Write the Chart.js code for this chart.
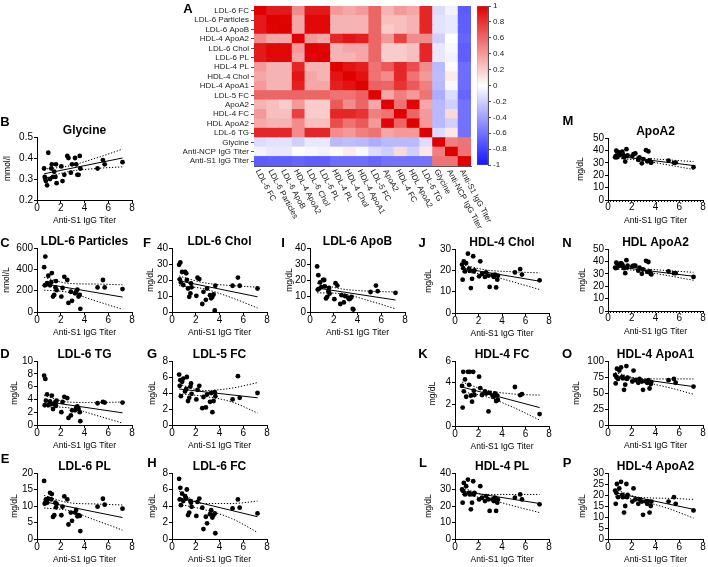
<!DOCTYPE html>
<html>
<head>
<meta charset="utf-8">
<script src="https://cdn.jsdelivr.net/npm/chart.js@4.4.1/dist/chart.umd.min.js"></script>
<style>
body{margin:0;background:#fff;}
#fig{position:relative;width:708px;height:567px;overflow:hidden;font-family:Arial,"Liberation Sans",Helvetica,sans-serif;}
#fig canvas{position:absolute;}
.lt{position:absolute;font-weight:bold;font-size:13px;line-height:13px;transform:translate(-50%,-50%);color:#000;}
</style>
</head>
<body>
<div id="fig"></div>
<script>
// ---- heatmap (panel A) ----
const vars = ['LDL-6 FC','LDL-6 Particles','LDL-6 ApoB','HDL-4 ApoA2','LDL-6 Chol','LDL-6 PL','HDL-4 PL',
  'HDL-4 Chol','HDL-4 ApoA1','LDL-5 FC','ApoA2','HDL-4 FC','HDL ApoA2','LDL-6 TG','Glycine',
  'Anti-NCP IgG Titer','Anti-S1 IgG Titer'];
const corr = [
  [1,.9,.9,.45,.9,.9,.4,.35,.4,.6,.3,.4,.35,.85,-.15,-.05,-.7],
  [.9,1,.99,.35,.97,.97,.3,.3,.3,.6,.25,.25,.3,.85,-.12,-.1,-.68],
  [.9,.99,1,.35,.97,.97,.3,.3,.3,.6,.2,.25,.3,.85,-.12,-.1,-.68],
  [.45,.35,.35,1,.4,.35,.85,.92,.88,.6,.4,.75,.45,.45,-.2,0,-.65],
  [.9,.97,.97,.4,1,.98,.3,.35,.35,.6,.2,.2,.25,.85,-.1,-.03,-.68],
  [.9,.97,.97,.35,.98,1,.3,.3,.35,.6,.2,.2,.25,.85,-.1,-.05,-.68],
  [.4,.3,.3,.85,.3,.3,1,.92,.88,.55,.65,.85,.7,.45,-.3,.02,-.62],
  [.35,.3,.3,.92,.35,.3,.92,1,.93,.55,.45,.85,.55,.4,-.28,.08,-.62],
  [.4,.3,.3,.88,.35,.35,.88,.93,1,.62,.6,.8,.65,.5,-.3,-.03,-.62],
  [.6,.6,.6,.6,.6,.6,.55,.55,.62,1,.35,.5,.4,.55,-.35,-.15,-.65],
  [.3,.25,.2,.4,.2,.2,.65,.45,.6,.35,1,.55,.98,.35,-.3,-.2,-.6],
  [.4,.25,.25,.75,.2,.2,.85,.85,.8,.5,.55,1,.6,.4,-.3,.15,-.6],
  [.35,.3,.3,.45,.25,.25,.7,.55,.65,.4,.98,.6,1,.4,-.3,-.2,-.6],
  [.85,.85,.85,.45,.85,.85,.45,.4,.5,.55,.35,.4,.4,1,-.15,.1,-.6],
  [-.15,-.12,-.12,-.2,-.1,-.1,-.3,-.28,-.3,-.35,-.3,-.3,-.3,-.15,1,.5,.55],
  [-.05,-.1,-.1,0,-.03,-.05,.02,.08,-.03,-.15,-.2,.15,-.2,.1,.5,1,.55],
  [-.7,-.68,-.68,-.65,-.68,-.68,-.62,-.62,-.62,-.65,-.6,-.6,-.6,-.6,.55,.55,1]
];
const cbStops = [-1,-0.75,-0.5,-0.25,0,0.25,0.5,0.75,1];

// ---- scatter panels: shared x (Anti-S1 IgG titer) ----
const titer = [0.6,0.65,0.7,0.75,0.85,0.95,1.1,1.2,1.25,1.35,1.45,1.55,1.6,1.65,2.05,2.15,2.3,2.55,2.65,2.85,2.95,3.2,3.3,3.4,3.5,3.6,3.65,5.1,5.55,5.7,7.2];
const fitX = [0.6, 7.2];
const ciX = [0.6, 2.6, 5, 7.2];

const glycine = [0.35,0.31,0.30,0.29,0.27,0.425,0.30,0.35,0.37,0.31,0.335,0.31,0.37,0.28,0.36,0.29,0.32,0.41,0.40,0.33,0.37,0.40,0.37,0.32,0.32,0.41,0.35,0.35,0.39,0.37,0.38];
const glycineFit = [0.325, 0.40], glycineUp = [0.347,0.361,0.40,0.442], glycineLo = [0.303,0.335,0.35,0.358];

const ldl6Particles = [420,250,520,255,270,340,250,280,365,145,160,230,290,205,145,225,330,300,85,190,105,175,190,210,145,160,30,230,300,230,215];
const ldl6ParticlesFit = [265,140], ldl6ParticlesUp = [325,269,262,255], ldl6ParticlesLo = [205,185,102,25];

const ldl6TG = [7.7,3.1,7.2,3.8,4.8,3.1,3.7,3.3,4.6,2.5,3.3,3.6,3.0,3.8,2.0,3.6,4.4,4.2,1.1,1.5,2.3,2.3,2.7,2.9,2.5,2.0,0.6,3.4,3.6,3.5,3.5];
const ldl6TGFit = [3.7,1.9], ldl6TGUp = [4.6,3.6,3.5,3.6], ldl6TGLo = [2.85,2.7,1.5,0.3];

const ldl6PL = [17.6,10.7,11,12,11,12.2,14,12,13.6,6.7,7.2,11,9.6,10.6,7.2,9.8,12.9,12,4.4,8,5.5,8,8.8,6.9,7.2,7,2.4,9.8,12.2,10.4,9.2];
const ldl6PLFit = [11.3,6.5], ldl6PLUp = [13.2,11.05,10.6,10.3], ldl6PLLo = [9.4,8.65,5.6,2.7];

const ldl6Chol = [29.5,20.4,31,18.5,25,16.8,25,24.2,20,14.7,9.5,11.6,17.9,15.4,10.1,21.4,20.6,5,12.6,7.6,14.7,10.5,8.6,9.5,11,1,16.4,16.4,21.5,16.4,14.7];
const ldl6CholFit = [19.5,9.5], ldl6CholUp = [22.5,18.4,16.5,15.5], ldl6CholLo = [16.5,14.6,9,2.5];

const ldl5FC = [6.3,4.9,5.6,3.6,5.4,5.8,4.2,4.5,6.0,3.0,3.4,4.8,5.2,3.9,3.2,4.4,4.9,2.1,3.5,2.2,3.8,2.9,4.0,1.6,3.0,4.1,3.6,3.2,6.1,3.4,4.0];
const ldl5FCFit = [4.5,3.4], ldl5FCUp = [5.1,4.3,4.6,5.3], ldl5FCLo = [3.9,3.6,2.9,1.5];

const ldl6FC = [7.3,4.8,6.2,4.1,5.5,4.6,5.2,4.9,6.0,2.9,3.2,4.6,4.4,3.9,2.8,4.5,4.9,3.8,1.2,2.7,1.9,3.0,3.5,2.6,2.9,3.1,0.7,3.7,4.8,3.8,3.1];
const ldl6FCFit = [5.0,2.7], ldl6FCUp = [5.8,4.3,4.3,4.6], ldl6FCLo = [4.2,3.6,2.5,0.8];

const ldl6ApoB = [28.5,14,23,14.5,18.5,15.5,20,20,16,8.5,9.5,13,15,11.5,8,18,16.5,5,10.5,6,10,9,8,8.5,9.5,2,1.5,12.5,16.5,13,12];
const ldl6ApoBFit = [15,7.5], ldl6ApoBUp = [18,14.5,13,12.5], ldl6ApoBLo = [12,11.5,7,2];

const hdl4Chol = [22.7,15.6,21,24.2,19.5,23.4,27.8,20.8,19.8,11.7,16,26.6,19.5,20,17.2,24.2,18.4,16.9,19,17.5,12.2,17.7,16.9,18,12,15.6,17.5,19,20.6,18,15.3];
const hdl4CholFit = [21,14.9], hdl4CholUp = [22.7,20.2,19.3,18.8], hdl4CholLo = [19.3,18,14.5,11];

const hdl4FC = [3.7,1.7,5.0,3.2,4.3,2.7,5.0,3.8,5.0,2.8,2.25,5.0,3.26,2.86,4.55,3.5,2.86,3.2,3.0,1.35,3.05,2.8,2.7,3.0,2.3,2.8,2.4,3.6,2.85,2.95,1.1];
const hdl4FCFit = [3.6,1.7], hdl4FCUp = [4.05,3.32,2.95,2.85], hdl4FCLo = [3.15,2.72,1.7,0.55];

const hdl4PL = [30,22,29,34,27,32,36,28,27,18,22,35,27,28,24,32,25,23,26,24,17,24,23,25,17,22,24,25,27,24,21];
const hdl4PLFit = [29,21.5], hdl4PLUp = [31,27,27,27], hdl4PLLo = [27,24.5,20,16];

const apoA2 = [34.4,35.4,39.7,34.4,38.5,36,38.1,38.9,37,34.4,31,41,35.4,36,35.4,37,37.6,32.3,34.4,29.6,33,40.2,31.2,39.2,32,30.2,30.2,31.7,30,30.2,26.5];
const apoA2Fit = [35.5,27.8], apoA2Up = [37.3,34.3,32.4,31], apoA2Lo = [33.7,32.1,28.4,24.6];

const hdlApoA2 = [35,34.5,39,35,38,36.5,38.5,37.5,36,34.5,30.5,41,35,36.5,36,36.5,36.5,32.5,35,30,33.5,40.5,31.5,39.5,32,30,29.5,32,30.5,30.5,27.5];
const hdlApoA2Fit = [35.8,28], hdlApoA2Up = [37.6,34.6,32.6,31.2], hdlApoA2Lo = [34,32.4,28.6,24.8];

const hdl4ApoA1 = [78,65,75,88,72,85,90,75,73,55,63,92,72,74,68,85,70,66,72,68,55,68,66,70,57,64,67,70,72,66,60];
const hdl4ApoA1Fit = [77,60], hdl4ApoA1Up = [82,73,72,72], hdl4ApoA1Lo = [72,68,59,48];

const hdl4ApoA2 = [22,16,21,25,19,23,26,20,19,12,15,25,19,20,17,23,18,16,18,17,11,17,16,17,12,15,17,17,19,16,13];
const hdl4ApoA2Fit = [21,13.5], hdl4ApoA2Up = [22.5,19,18.5,18], hdl4ApoA2Lo = [19.5,17.5,14,9.5];

// ---- setup ----
const fig = document.getElementById('fig');
Chart.defaults.font.family = 'Arial, "Liberation Sans", Helvetica, sans-serif';
Chart.defaults.color = '#000';
Chart.defaults.animation = false;

function addCanvas(left, top, w, h) {
  const c = document.createElement('canvas');
  c.width = w; c.height = h;
  c.style.left = left + 'px'; c.style.top = top + 'px';
  c.style.width = w + 'px'; c.style.height = h + 'px';
  fig.appendChild(c);
  return c;
}

function colorOf(v) {
  if (v >= 0) {
    const g = Math.round(255 * (1 - v));
    return 'rgb(' + Math.round(255 - 30 * v) + ',' + g + ',' + g + ')';
  }
  const a = -v, c = Math.round(255 - 235 * a);
  return 'rgb(' + c + ',' + c + ',255)';
}

// heatmap
const colLabels = {
  id: 'colLabels',
  afterDraw(chart) {
    const {ctx, chartArea} = chart;
    const x = chart.scales.x;
    ctx.save();
    ctx.font = '8px Arial, "Liberation Sans", sans-serif';
    ctx.fillStyle = '#222';
    ctx.textAlign = 'left';
    ctx.textBaseline = 'middle';
    vars.forEach((name, i) => {
      ctx.save();
      ctx.translate(x.getPixelForValue(i) - 3, chartArea.bottom + 4);
      ctx.rotate(62 * Math.PI / 180);
      ctx.fillText(name, 0, 0);
      ctx.restore();
    });
    ctx.restore();
  }
};

const hmCanvas = addCanvas(150, 0, 350, 240);
new Chart(hmCanvas, {
  type: 'bar',
  data: {
    labels: vars,
    datasets: vars.map((_, k) => {
      const r = vars.length - 1 - k;
      return {
        data: vars.map(() => 1),
        backgroundColor: corr[r].map(colorOf),
        borderWidth: 0,
        inflateAmount: 0.5,
        barPercentage: 1,
        categoryPercentage: 1
      };
    })
  },
  options: {
    responsive: false,
    devicePixelRatio: 1,
    layout: {padding: {top: 3, right: 29}},
    plugins: {legend: {display: false}, tooltip: {enabled: false}},
    scales: {
      x: {
        stacked: true,
        grid: {display: false},
        border: {display: true, color: '#555'},
        ticks: {display: false},
        afterFit: s => { s.height = 240 - 166; }
      },
      y: {
        stacked: true, min: 0, max: vars.length,
        afterBuildTicks: axis => { axis.ticks = vars.map((v, i) => ({value: vars.length - i - 0.5})); },
        ticks: {
          autoSkip: false, padding: 2, color: '#222',
          font: {size: 8, lineHeight: 1},
          callback: v => vars[Math.round(vars.length - 0.5 - v)]
        },
        grid: {display: true, drawOnChartArea: false, tickLength: 3, color: '#555'},
        border: {display: true, color: '#555'},
        afterFit: s => { s.width = 104; }
      }
    }
  },
  plugins: [colLabels]
});

// colour bar
const cbCanvas = addCanvas(470, 0, 46, 171);
new Chart(cbCanvas, {
  type: 'bar',
  data: {
    labels: [''],
    datasets: [{
      data: [[-1, 1]],
      barPercentage: 1, categoryPercentage: 1,
      borderWidth: 0.5, borderColor: '#777', borderSkipped: false,
      backgroundColor: c => {
        const a = c.chart.chartArea;
        if (!a) return '#fff';
        const g = c.chart.ctx.createLinearGradient(0, a.bottom, 0, a.top);
        cbStops.forEach(v => g.addColorStop((v + 1) / 2, colorOf(v)));
        return g;
      }
    }]
  },
  options: {
    responsive: false,
    devicePixelRatio: 1,
    layout: {padding: {left: 7, top: 3, bottom: 5}},
    plugins: {legend: {display: false}, tooltip: {enabled: false}},
    scales: {
      x: {display: false},
      y: {
        position: 'right', min: -1, max: 1,
        ticks: {stepSize: 0.2, padding: 2, color: '#222', font: {size: 8, lineHeight: 1},
          callback: v => String(+v.toFixed(1))},
        grid: {display: true, drawOnChartArea: false, tickLength: 3, color: '#555'},
        border: {display: true, color: '#555'},
        afterFit: s => { s.width = 28; }
      }
    }
  }
});

// scatter panels
const panels = [
  {title: 'Glycine', unit: 'mmol/l', y: glycine, fit: glycineFit, up: glycineUp, lo: glycineLo, min: 0.2, max: 0.5, step: 0.1, box: [37,132,137,200], yt: 8},
  {title: 'LDL-6 Particles', unit: 'nmol/L', y: ldl6Particles, fit: ldl6ParticlesFit, up: ldl6ParticlesUp, lo: ldl6ParticlesLo, min: 0, max: 600, step: 200, box: [37,132,248,312], yt: 7},
  {title: 'LDL-6 TG', unit: 'mg/dL', y: ldl6TG, fit: ldl6TGFit, up: ldl6TGUp, lo: ldl6TGLo, min: 0, max: 10, step: 2, box: [37,132,361,425], yt: 15},
  {title: 'LDL-6 PL', unit: 'mg/dL', y: ldl6PL, fit: ldl6PLFit, up: ldl6PLUp, lo: ldl6PLLo, min: 0, max: 20, step: 5, box: [37,132,473,539], yt: 15},
  {title: 'LDL-6 Chol', unit: 'mg/dL', y: ldl6Chol, fit: ldl6CholFit, up: ldl6CholUp, lo: ldl6CholLo, min: 0, max: 40, step: 10, box: [172,267,248,312], yt: 151},
  {title: 'LDL-5 FC', unit: 'mg/dL', y: ldl5FC, fit: ldl5FCFit, up: ldl5FCUp, lo: ldl5FCLo, min: 0, max: 8, step: 2, box: [172,267,361,425], yt: 153},
  {title: 'LDL-6 FC', unit: 'mg/dL', y: ldl6FC, fit: ldl6FCFit, up: ldl6FCUp, lo: ldl6FCLo, min: 0, max: 8, step: 2, box: [172,267,473,539], yt: 153},
  {title: 'LDL-6 ApoB', unit: 'mg/dL', y: ldl6ApoB, fit: ldl6ApoBFit, up: ldl6ApoBUp, lo: ldl6ApoBLo, min: 0, max: 40, step: 10, box: [310,405,248,312], yt: 290},
  {title: 'HDL-4 Chol', unit: 'mg/dL', y: hdl4Chol, fit: hdl4CholFit, up: hdl4CholUp, lo: hdl4CholLo, min: 0, max: 30, step: 10, box: [455,549,249,313], yt: 429},
  {title: 'HDL-4 FC', unit: 'mg/dL', y: hdl4FC, fit: hdl4FCFit, up: hdl4FCUp, lo: hdl4FCLo, min: 0, max: 6, step: 2, box: [455,549,361,426], yt: 433},
  {title: 'HDL-4 PL', unit: 'mg/dL', y: hdl4PL, fit: hdl4PLFit, up: hdl4PLUp, lo: hdl4PLLo, min: 0, max: 40, step: 10, box: [455,549,473,539], yt: 429},
  {title: 'ApoA2', unit: 'mg/dL', y: apoA2, fit: apoA2Fit, up: apoA2Up, lo: apoA2Lo, min: 0, max: 50, step: 10, box: [608,703,138,200], yt: 581, dense: true},
  {title: 'HDL ApoA2', unit: 'mg/dL', y: hdlApoA2, fit: hdlApoA2Fit, up: hdlApoA2Up, lo: hdlApoA2Lo, min: 0, max: 50, step: 10, box: [608,703,249,311], yt: 583, dense: true},
  {title: 'HDL-4 ApoA1', unit: 'mg/dL', y: hdl4ApoA1, fit: hdl4ApoA1Fit, up: hdl4ApoA1Up, lo: hdl4ApoA1Lo, min: 0, max: 100, step: 25, box: [608,703,361,425], yt: 577},
  {title: 'HDL-4 ApoA2', unit: 'mg/dL', y: hdl4ApoA2, fit: hdl4ApoA2Fit, up: hdl4ApoA2Up, lo: hdl4ApoA2Lo, min: 0, max: 30, step: 5, box: [608,703,473,539], yt: 583}
];

const xAxisH = 26;

function scatterPanel(p) {
  const [l, r, t, b] = p.box;
  const left = Math.round(p.yt - 5);
  const top = t - 14;
  const w = r + 6 - left, h = b + xAxisH - top;
  const cv = addCanvas(left, top, w, h);
  const dashed = {showLine: true, borderColor: '#000', borderWidth: 1, borderDash: [1.3, 1.7],
    pointRadius: 0, cubicInterpolationMode: 'monotone'};
  new Chart(cv, {
    type: 'scatter',
    data: {
      datasets: [
        {data: titer.map((x, i) => ({x, y: p.y[i]})), pointRadius: 2.4, pointBackgroundColor: '#000',
          pointBorderColor: '#000', pointBorderWidth: 0},
        {data: fitX.map((x, i) => ({x, y: p.fit[i]})), showLine: true, borderColor: '#000', borderWidth: 1, pointRadius: 0},
        Object.assign({data: ciX.map((x, i) => ({x, y: p.up[i]}))}, dashed),
        Object.assign({data: ciX.map((x, i) => ({x, y: p.lo[i]}))}, dashed)
      ]
    },
    options: {
      responsive: false,
      devicePixelRatio: 1,
      layout: {padding: {top: 2, right: 6, left: 0, bottom: 0}},
      plugins: {
        legend: {display: false},
        tooltip: {enabled: false},
        title: {display: true, text: p.title, color: '#000', padding: 0, fullSize: false,
          font: {size: 12, weight: 'bold', lineHeight: 1}}
      },
      scales: {
        x: {
          type: 'linear', min: 0, max: 8,
          ticks: {
            stepSize: p.dense ? 0.25 : 2, autoSkip: false, maxRotation: 0, padding: 0,
            font: {size: 10, lineHeight: 1},
            callback: v => (v % 2 === 0 ? v : '')
          },
          grid: {display: true, drawOnChartArea: false, tickLength: p.dense ? 2 : 3, color: '#000'},
          border: {display: true, color: '#000', width: 1},
          title: {display: true, text: 'Anti-S1 IgG Titer', padding: 0, font: {size: 8.5, lineHeight: 1.2}},
          afterFit: s => { s.height = xAxisH; }
        },
        y: {
          min: p.min, max: p.max,
          ticks: {stepSize: p.step, autoSkip: false, padding: 1, font: {size: 10, lineHeight: 1}},
          grid: {display: true, drawOnChartArea: false, tickLength: 3, color: '#000'},
          border: {display: true, color: '#000', width: 1},
          title: {display: true, text: p.unit, padding: 0, font: {size: 8.5, lineHeight: 1.2}},
          afterFit: s => { s.width = l - left; }
        }
      }
    }
  });
}
panels.forEach(scatterPanel);

// panel letters
const letters = [['A',188,8],['B',5,121],['C',5,242],['D',5,353],['E',5,458],['F',147,242],['G',152,353],['H',152,462],
  ['I',283,242],['J',422,242],['K',423,353],['L',423,462],['M',568,120],['N',567,242],['O',567,353],['P',567,462]];
letters.forEach(([txt, x, y]) => {
  const d = document.createElement('div');
  d.className = 'lt';
  d.textContent = txt;
  d.style.left = x + 'px';
  d.style.top = y + 'px';
  fig.appendChild(d);
});
</script>
</body>
</html>
